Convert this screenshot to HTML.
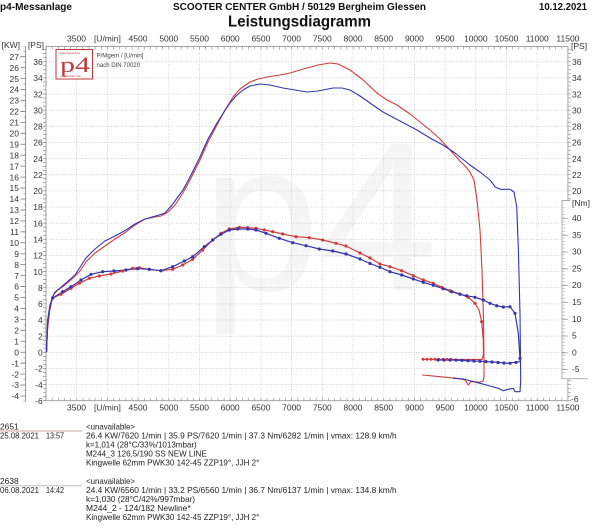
<!DOCTYPE html>
<html><head><meta charset="utf-8"><style>
html,body{margin:0;padding:0;background:#fff;}
svg{display:block;font-family:"Liberation Sans",Arial,sans-serif;}
</style></head><body>
<svg width="600" height="528" viewBox="0 0 600 528" xmlns="http://www.w3.org/2000/svg">
<rect width="600" height="528" fill="#fff"/>
<!-- header -->
<text x="0" y="10" font-size="10.5" font-weight="bold" fill="#111" textLength="72" lengthAdjust="spacingAndGlyphs">p4-Messanlage</text>
<text x="173" y="10" font-size="10.5" font-weight="bold" fill="#111" textLength="253" lengthAdjust="spacingAndGlyphs">SCOOTER CENTER GmbH / 50129 Bergheim Glessen</text>
<text x="539" y="10" font-size="10.5" font-weight="bold" fill="#111" textLength="48" lengthAdjust="spacingAndGlyphs">10.12.2021</text>
<text x="228" y="26.5" font-size="16" font-weight="bold" fill="#111" textLength="143" lengthAdjust="spacingAndGlyphs">Leistungsdiagramm</text>

<!-- watermark -->
<text x="202" y="290" font-size="212" fill="#f5f5f5">p4</text>

<!-- grid -->
<g stroke="#c8c8c8" stroke-width="0.8" stroke-dasharray="1 1.5" fill="none">
<path d="M76.7 46.5V400.7M107.4 46.5V400.7M138.1 46.5V400.7M168.8 46.5V400.7M199.5 46.5V400.7M230.2 46.5V400.7M260.9 46.5V400.7M291.6 46.5V400.7M322.3 46.5V400.7M353 46.5V400.7M383.7 46.5V400.7M414.4 46.5V400.7M445.1 46.5V400.7M475.8 46.5V400.7M506.5 46.5V400.7M537.2 46.5V400.7"/>
<path d="M46 384.6H568M46 368.4H568M46 352.3H568M46 336.2H568M46 320H568M46 303.9H568M46 287.7H568M46 271.6H568M46 255.5H568M46 239.3H568M46 223.2H568M46 207H568M46 190.9H568M46 174.8H568M46 158.6H568M46 142.5H568M46 126.3H568M46 110.2H568M46 94.1H568M46 77.9H568M46 61.8H568"/>
</g>

<!-- frame -->
<rect x="46" y="46.5" width="521.9" height="354.2" fill="none" stroke="#9a9a9a" stroke-width="0.9"/>
<line x1="45.7" y1="399.2" x2="568" y2="399.2" stroke="#999" stroke-width="3" stroke-dasharray="0.7 5.44"/>
<line x1="45.7" y1="48" x2="568" y2="48" stroke="#999" stroke-width="3" stroke-dasharray="0.7 5.44"/>
<line x1="44.5" y1="401" x2="44.5" y2="46" stroke="#888" stroke-width="3" stroke-dasharray="0.7 3.335"/>
<line x1="569.5" y1="401" x2="569.5" y2="46" stroke="#999" stroke-width="3" stroke-dasharray="0.7 3.335"/>

<!-- KW axis -->
<line x1="25.5" y1="46.5" x2="25.5" y2="401" stroke="#888" stroke-width="0.9"/>
<line x1="23" y1="396.4" x2="23" y2="46" stroke="#777" stroke-width="5" stroke-dasharray="0.8 10.145"/>
<line x1="24.5" y1="401.9" x2="24.5" y2="46" stroke="#999" stroke-width="2" stroke-dasharray="0.6 4.8725"/>

<!-- Left labels -->
<g font-size="8.5" fill="#333" text-anchor="end">
<text x="20" y="48">[KW]</text>
<text x="19" y="399.2">-4</text><text x="19" y="388.2">-3</text><text x="19" y="377.3">-2</text><text x="19" y="366.3">-1</text>
<text x="19" y="355.4">0</text><text x="19" y="344.5">1</text><text x="19" y="333.5">2</text><text x="19" y="322.6">3</text>
<text x="19" y="311.6">4</text><text x="19" y="300.7">5</text><text x="19" y="289.7">6</text><text x="19" y="278.8">7</text>
<text x="19" y="267.8">8</text><text x="19" y="256.9">9</text><text x="19" y="246">10</text><text x="19" y="235">11</text>
<text x="19" y="224.1">12</text><text x="19" y="213.1">13</text><text x="19" y="202.2">14</text><text x="19" y="191.2">15</text>
<text x="19" y="180.3">16</text><text x="19" y="169.3">17</text><text x="19" y="158.4">18</text><text x="19" y="147.4">19</text>
<text x="19" y="136.5">20</text><text x="19" y="125.6">21</text><text x="19" y="114.6">22</text><text x="19" y="103.7">23</text>
<text x="19" y="92.7">24</text><text x="19" y="81.8">25</text><text x="19" y="70.8">26</text><text x="19" y="59.9">27</text>
<text x="44" y="48">[PS]</text>
<text x="42.7" y="403.9">-6</text><text x="42.7" y="387.8">-4</text><text x="42.7" y="371.6">-2</text><text x="42.7" y="355.5">0</text>
<text x="42.7" y="339.4">2</text><text x="42.7" y="323.2">4</text><text x="42.7" y="307.1">6</text><text x="42.7" y="290.9">8</text>
<text x="42.7" y="274.8">10</text><text x="42.7" y="258.7">12</text><text x="42.7" y="242.5">14</text><text x="42.7" y="226.4">16</text>
<text x="42.7" y="210.2">18</text><text x="42.7" y="194.1">20</text><text x="42.7" y="178">22</text><text x="42.7" y="161.8">24</text>
<text x="42.7" y="145.7">26</text><text x="42.7" y="129.5">28</text><text x="42.7" y="113.4">30</text><text x="42.7" y="97.3">32</text>
<text x="42.7" y="81.1">34</text><text x="42.7" y="65">36</text>
</g>

<!-- Right PS labels -->
<g font-size="8.5" fill="#333">
<text x="571" y="49">[PS]</text>
<text x="572" y="65">36</text><text x="572" y="81.1">34</text><text x="572" y="97.3">32</text><text x="572" y="113.4">30</text>
<text x="572" y="129.5">28</text><text x="572" y="145.7">26</text><text x="572" y="161.8">24</text><text x="572" y="178">22</text>
<text x="572" y="194.1">20</text>
<text x="571" y="402">-6</text>
</g>

<!-- Nm box -->
<rect x="562" y="200.5" width="30" height="178.2" fill="#fff" stroke="none"/>
<path d="M570 200.5H562V378.7H588" fill="none" stroke="#aaa" stroke-width="0.9"/>
<line x1="565" y1="370" x2="565" y2="210" stroke="#999" stroke-width="6" stroke-dasharray="0.7 16.1"/>
<line x1="563.5" y1="372.7" x2="563.5" y2="205" stroke="#aaa" stroke-width="3" stroke-dasharray="0.6 2.76"/>
<g font-size="8.5" fill="#333">
<text x="572" y="206">[Nm]</text>
<text x="572" y="221">40</text><text x="572" y="237.8">35</text><text x="572" y="254.6">30</text><text x="572" y="271.4">25</text>
<text x="572" y="288.2">20</text><text x="572" y="305">15</text><text x="572" y="321.8">10</text><text x="572" y="338.6">5</text>
<text x="572" y="355.4">0</text><text x="572" y="372.2">-5</text>
</g>

<!-- top/bottom rpm labels -->
<g font-size="8.5" fill="#333" text-anchor="middle">
<text x="76.5" y="41.5">3500</text><text x="107.4" y="41.5">[U/min]</text><text x="138" y="41.5">4500</text><text x="168.8" y="41.5">5000</text>
<text x="199.5" y="41.5">5500</text><text x="230.2" y="41.5">6000</text><text x="260.9" y="41.5">6500</text><text x="291.6" y="41.5">7000</text>
<text x="322.3" y="41.5">7500</text><text x="353" y="41.5">8000</text><text x="383.7" y="41.5">8500</text><text x="414.4" y="41.5">9000</text>
<text x="445.1" y="41.5">9500</text><text x="475.8" y="41.5">10000</text><text x="506.5" y="41.5">10500</text><text x="537.2" y="41.5">11000</text>
<text x="567.9" y="41.5">11500</text>
<text x="76.5" y="410.7">3500</text><text x="107.4" y="410.7">[U/min]</text><text x="138" y="410.7">4500</text><text x="168.8" y="410.7">5000</text>
<text x="199.5" y="410.7">5500</text><text x="230.2" y="410.7">6000</text><text x="260.9" y="410.7">6500</text><text x="291.6" y="410.7">7000</text>
<text x="322.3" y="410.7">7500</text><text x="353" y="410.7">8000</text><text x="383.7" y="410.7">8500</text><text x="414.4" y="410.7">9000</text>
<text x="445.1" y="410.7">9500</text><text x="475.8" y="410.7">10000</text><text x="506.5" y="410.7">10500</text><text x="537.2" y="410.7">11000</text>
<text x="567.9" y="410.7">11500</text>
</g>

<!-- logo -->
<rect x="56" y="49.5" width="36.5" height="29.5" fill="#fff" stroke="#c0393b" stroke-width="1"/>
<text x="60" y="53.8" font-size="2.6" fill="#c0393b">Leistungsprüfung</text>
<text x="64" y="77" font-size="2.6" fill="#c0393b">Leopolder Tele</text>
<text x="60" y="72" font-size="22" fill="#c0393b" font-family="Liberation Serif,serif" textLength="30" lengthAdjust="spacingAndGlyphs">p4</text>
<text x="96.5" y="57.3" font-size="6" fill="#444" textLength="47" lengthAdjust="spacingAndGlyphs">P/Mgem / [U/min]</text>
<text x="96.5" y="67" font-size="6" fill="#444" textLength="43.5" lengthAdjust="spacingAndGlyphs">nach DIN 70020</text>

<!-- curves -->
<g fill="none" stroke-width="1.1" stroke-linejoin="round" stroke-linecap="round">
<polyline stroke="#d23c3c" points="46.5,352 47.5,330 49.5,312 52,300 54,294 58,290 65,285 72,279 80,271 86,262 95,253 105,246 115,239 126,232 135,225 145,219 155,217 161,216 168,212 175,205 183,193 190,180 200,160 208,142 217,125 225,110 233,97 240,89 250,82 258,79 267,77 280,75 290,73 300,70 307,68 318,65 330,63 338,64 350,70 362,79 377,93 387,100 397,105 410,114 420,122 430,130 440,139 450,150 460,161 466,167 470,172 474,180 477,200 480,230 482,270 483.5,320 484,360 484,378 483,381 480,382.3 475,381.7 470.7,381.7 468.3,385 465,380 456.7,378.3 440,376.7 422.7,375"/>
<polyline stroke="#3434b0" points="46.5,352 47.5,328 49.5,310 52,298 55,292 60,288 67,282 75,275 86,258 95,249 105,241 115,236 126,230 135,224 145,219 152,217 159,215 165,213 172,205 183,190 190,177 200,157 208,139 217,123 224,112 230,103 236,96 243,90 250,86 260,84 270,85 283,88 295,90 307,92 318,91 333,88 342,88 350,90 360,96 370,103 383,112 400,121 417,130 430,138 443,145 455,153 470,165 480,172 490,180 495,186.7 500,189.3 510,189.3 514,192 516.7,206.7 518.3,246.7 520,313.3 520.7,380 520,391.7 515,391.7 513.3,388.3 508.3,389.3 503.3,390.7 498.3,388.3 490,386 480,383.3 463.3,379 453.3,378.3"/>
<polyline stroke="#d23c3c" stroke-width="1.2" points="46.5,352 47.5,325 50,305 52.7,298 61,294.3 71,288.3 79.3,283.3 89.3,278.3 99.3,276 111,274 122.7,271 132.7,268.3 139.3,267.7 149.3,269.3 161,270.7 172.7,269.3 182.7,265 192.7,259.3 202.7,250 212.7,240 221,233.3 229.3,229 239.3,227.3 247.7,227.7 256,228.3 264.3,230 272.7,231.7 282.7,234 296,236.7 309.3,237.7 322.7,240 336,243.3 346,246 360,253 370,258 380,264 390,266.7 401.7,270.7 413.3,275.7 423.3,280 433.3,283.3 441.7,287.3 450,290.7 460,294 468.3,297.3 475,303.3 479,310 481.7,321.7 483.3,340 483.5,355 482,359.5 470,359.5 453,359.5 423,359.3"/>
<polyline stroke="#3434b0" stroke-width="1.2" points="46.5,352 47.7,320 50,305 52.7,298 62.7,291.7 71,286.7 81,280 91,274.3 102.7,271.7 114,271 126,270 137.7,268.7 149.3,269.3 161,270.7 172.7,266.7 184.3,261 192.7,256.7 204.3,246.7 212.7,240 221,234.3 229.3,230 237.7,229 247.7,229 256,230 266,233.3 279.3,238.3 292.7,242.7 306,245.7 319.3,249 332.7,251 346,254 360,259 370,263.5 380,267.3 390,271.7 401.7,275 413.3,279 423.3,282.3 433.3,285.3 443.3,288.7 451.7,291.7 460,294.3 466.7,295.7 475,297.3 483.3,300 490,303.3 496.7,305.7 503.3,307 510,306.7 515,313.3 518.3,333.3 520,358.3 520,361.7 506.7,363.3 493.3,362 480,361.3 466.7,360.7 453.3,360 438,360"/>
</g>
<!-- torque markers -->
<g fill="#d23c3c">
<circle cx="52.7" cy="298" r="1.6"/><circle cx="61" cy="294.3" r="1.6"/><circle cx="71" cy="288.3" r="1.6"/><circle cx="79.3" cy="283.3" r="1.6"/><circle cx="89.3" cy="278.3" r="1.6"/><circle cx="99.3" cy="276" r="1.6"/><circle cx="111" cy="274" r="1.6"/><circle cx="122.7" cy="271" r="1.6"/><circle cx="132.7" cy="268.3" r="1.6"/><circle cx="139.3" cy="267.7" r="1.6"/><circle cx="149.3" cy="269.3" r="1.6"/><circle cx="161" cy="270.7" r="1.6"/><circle cx="172.7" cy="269.3" r="1.6"/><circle cx="182.7" cy="265" r="1.6"/><circle cx="192.7" cy="259.3" r="1.6"/><circle cx="202.7" cy="250" r="1.6"/><circle cx="212.7" cy="240" r="1.6"/><circle cx="221" cy="233.3" r="1.6"/><circle cx="229.3" cy="229" r="1.6"/><circle cx="239.3" cy="227.3" r="1.6"/><circle cx="247.7" cy="227.7" r="1.6"/><circle cx="256" cy="228.3" r="1.6"/><circle cx="264.3" cy="230" r="1.6"/><circle cx="272.7" cy="231.7" r="1.6"/><circle cx="282.7" cy="234" r="1.6"/><circle cx="296" cy="236.7" r="1.6"/><circle cx="309.3" cy="237.7" r="1.6"/><circle cx="322.7" cy="240" r="1.6"/><circle cx="336" cy="243.3" r="1.6"/><circle cx="346" cy="246" r="1.6"/><circle cx="360" cy="253" r="1.6"/><circle cx="370" cy="258" r="1.6"/><circle cx="380" cy="264" r="1.6"/><circle cx="390" cy="266.7" r="1.6"/><circle cx="401.7" cy="270.7" r="1.6"/><circle cx="413.3" cy="275.7" r="1.6"/><circle cx="423.3" cy="280" r="1.6"/><circle cx="433.3" cy="283.3" r="1.6"/><circle cx="441.7" cy="287.3" r="1.6"/><circle cx="450" cy="290.7" r="1.6"/><circle cx="460" cy="294" r="1.6"/><circle cx="468.3" cy="297.3" r="1.6"/><circle cx="475" cy="303.3" r="1.6"/><circle cx="481.7" cy="321.7" r="1.6"/>
<circle cx="423" cy="359.3" r="1.5"/><circle cx="427" cy="359.3" r="1.5"/><circle cx="431" cy="359.3" r="1.5"/><circle cx="435" cy="359.3" r="1.5"/><circle cx="439" cy="359.4" r="1.5"/><circle cx="443" cy="359.4" r="1.5"/><circle cx="447" cy="359.4" r="1.5"/><circle cx="451" cy="359.5" r="1.5"/>
</g>
<g fill="#3434b0">
<circle cx="52.7" cy="298" r="1.6"/><circle cx="62.7" cy="291.7" r="1.6"/><circle cx="71" cy="286.7" r="1.6"/><circle cx="81" cy="280" r="1.6"/><circle cx="91" cy="274.3" r="1.6"/><circle cx="102.7" cy="271.7" r="1.6"/><circle cx="114" cy="271" r="1.6"/><circle cx="126" cy="270" r="1.6"/><circle cx="137.7" cy="268.7" r="1.6"/><circle cx="149.3" cy="269.3" r="1.6"/><circle cx="161" cy="270.7" r="1.6"/><circle cx="172.7" cy="266.7" r="1.6"/><circle cx="184.3" cy="261" r="1.6"/><circle cx="192.7" cy="256.7" r="1.6"/><circle cx="204.3" cy="246.7" r="1.6"/><circle cx="212.7" cy="240" r="1.6"/><circle cx="221" cy="234.3" r="1.6"/><circle cx="229.3" cy="230" r="1.6"/><circle cx="237.7" cy="229" r="1.6"/><circle cx="247.7" cy="229" r="1.6"/><circle cx="256" cy="230" r="1.6"/><circle cx="266" cy="233.3" r="1.6"/><circle cx="279.3" cy="238.3" r="1.6"/><circle cx="292.7" cy="242.7" r="1.6"/><circle cx="306" cy="245.7" r="1.6"/><circle cx="319.3" cy="249" r="1.6"/><circle cx="332.7" cy="251" r="1.6"/><circle cx="346" cy="254" r="1.6"/><circle cx="360" cy="259" r="1.6"/><circle cx="370" cy="263.5" r="1.6"/><circle cx="380" cy="267.3" r="1.6"/><circle cx="390" cy="271.7" r="1.6"/><circle cx="401.7" cy="275" r="1.6"/><circle cx="413.3" cy="279" r="1.6"/><circle cx="423.3" cy="282.3" r="1.6"/><circle cx="433.3" cy="285.3" r="1.6"/><circle cx="443.3" cy="288.7" r="1.6"/><circle cx="451.7" cy="291.7" r="1.6"/><circle cx="460" cy="294.3" r="1.6"/><circle cx="466.7" cy="295.7" r="1.6"/><circle cx="475" cy="297.3" r="1.6"/><circle cx="483.3" cy="300" r="1.6"/><circle cx="490" cy="303.3" r="1.6"/><circle cx="496.7" cy="305.7" r="1.6"/><circle cx="503.3" cy="307" r="1.6"/><circle cx="510" cy="306.7" r="1.6"/><circle cx="515" cy="313.3" r="1.6"/>
<circle cx="520" cy="358.3" r="1.6"/><circle cx="516" cy="362.5" r="1.6"/><circle cx="510" cy="363.3" r="1.6"/><circle cx="504" cy="363" r="1.6"/><circle cx="498" cy="362.5" r="1.6"/><circle cx="492" cy="362" r="1.6"/><circle cx="486" cy="361.6" r="1.6"/><circle cx="480" cy="361.3" r="1.6"/><circle cx="474" cy="361" r="1.6"/><circle cx="468" cy="360.7" r="1.6"/><circle cx="462" cy="360.4" r="1.6"/><circle cx="456" cy="360.1" r="1.6"/><circle cx="450" cy="360" r="1.6"/><circle cx="444" cy="360" r="1.6"/><circle cx="438" cy="360" r="1.6"/>
</g>

<!-- bottom info -->
<g font-size="8.4" fill="#222">
<text x="0" y="429.3">2651</text>
<line x1="0" y1="431" x2="82" y2="431" stroke="#d4a3a3" stroke-width="1"/>
<text x="0" y="438.4" textLength="39" lengthAdjust="spacingAndGlyphs">25.08.2021</text>
<text x="46" y="438.4" textLength="18" lengthAdjust="spacingAndGlyphs">13:57</text>
<text x="86" y="429.3" textLength="49" lengthAdjust="spacingAndGlyphs">&lt;unavailable&gt;</text>
<text x="86" y="438.4" textLength="310.7" lengthAdjust="spacingAndGlyphs">26.4 KW/7620 1/min  |  35.9 PS/7620 1/min  |  37.3 Nm/6282 1/min | vmax: 128.9 km/h</text>
<text x="86" y="447.3" textLength="110.7" lengthAdjust="spacingAndGlyphs">k=1,014 (28°C/33%/1013mbar)</text>
<text x="86" y="456.3" textLength="120.7" lengthAdjust="spacingAndGlyphs">M244_3 126,5/190 SS NEW LINE</text>
<text x="86" y="465.3" textLength="173.3" lengthAdjust="spacingAndGlyphs">Kingwelle 62mm PWK30 142-45 ZZP19°, JJH 2°</text>

<text x="0" y="484">2638</text>
<line x1="0" y1="485.8" x2="82" y2="485.8" stroke="#bdbdbd" stroke-width="1"/>
<text x="0" y="493.1" textLength="39" lengthAdjust="spacingAndGlyphs">06.08.2021</text>
<text x="46" y="493.1" textLength="18" lengthAdjust="spacingAndGlyphs">14:42</text>
<text x="86" y="484" textLength="49" lengthAdjust="spacingAndGlyphs">&lt;unavailable&gt;</text>
<text x="86" y="493.1" textLength="310.7" lengthAdjust="spacingAndGlyphs">24.4 KW/6560 1/min  |  33.2 PS/6560 1/min  |  36.7 Nm/6137 1/min | vmax: 134.8 km/h</text>
<text x="86" y="502.1" textLength="109" lengthAdjust="spacingAndGlyphs">k=1,030 (28°C/42%/997mbar)</text>
<text x="86" y="511.1" textLength="104.7" lengthAdjust="spacingAndGlyphs">M244_2 - 124/182  Newline*</text>
<text x="86" y="520" textLength="173.3" lengthAdjust="spacingAndGlyphs">Kingwelle 62mm PWK30 142-45 ZZP19°, JJH 2°</text>
</g>
</svg>
</body></html>
